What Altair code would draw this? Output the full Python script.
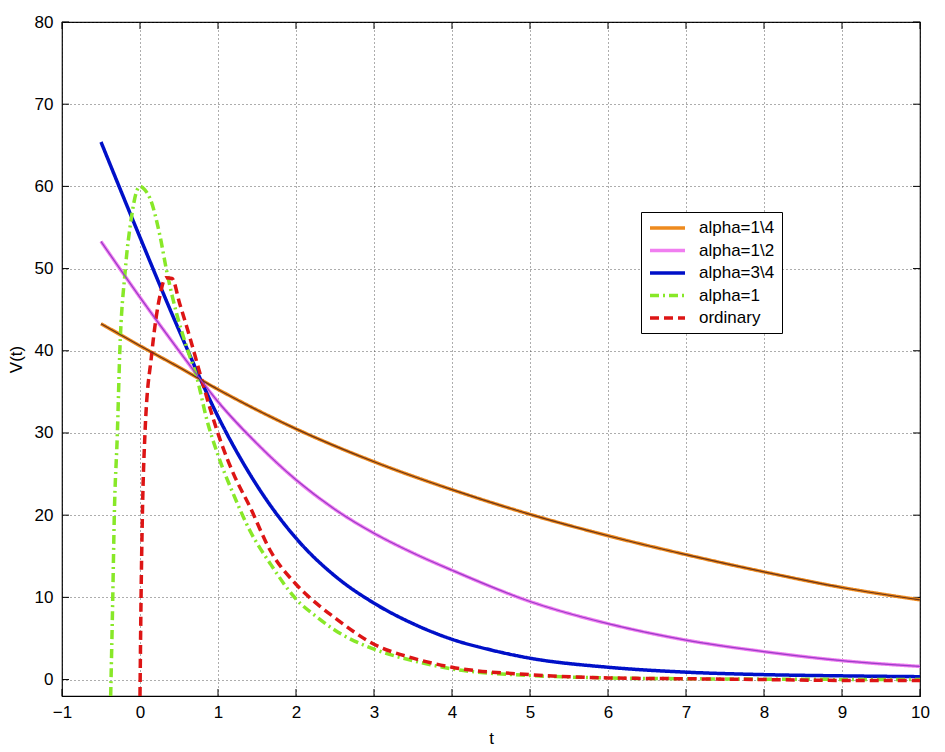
import altair as alt
import pandas as pd

series_names = ["alpha=1\\4", "alpha=1\\2", "alpha=3\\4", "alpha=1", "ordinary"]
series_colors = ["#EE8A1E", "#F07EF0", "#0010C8", "#88E828", "#DD1515"]
series_dash = [[1, 0], [1, 0], [1, 0], [9, 4, 2, 4], [9, 5]]
series_width = [3.5, 3.5, 4, 3.5, 4]

t_a14 = [-0.5, 0, 0.5, 1, 1.5, 2, 3, 4, 5, 6, 7, 8, 9, 10]
v_a14 = [43.3, 40.6, 38.0, 35.3, 32.8, 30.5, 26.5, 23.1, 20.1, 17.5, 15.2, 13.1, 11.2, 9.7]

t_a12 = [-0.5, 0, 0.5, 1, 1.5, 2, 2.5, 3, 3.5, 4, 5, 6, 7, 8, 9, 10]
v_a12 = [53.3, 46.5, 40.0, 33.8, 28.7, 24.3, 20.7, 17.8, 15.4, 13.3, 9.5, 6.8, 4.8, 3.4, 2.3, 1.6]

t_a34 = [-0.5, 0, 0.5, 1, 1.5, 2, 2.5, 3, 3.5, 4, 4.5, 5, 6, 7, 8, 9, 10]
v_a34 = [65.4, 53.8, 42.5, 32.0, 23.6, 17.2, 12.6, 9.3, 6.8, 4.9, 3.6, 2.6, 1.5, 0.9, 0.6, 0.45, 0.35]

t_a1 = [-0.376, -0.35, -0.33, -0.29, -0.26, -0.19, -0.11, -0.05, 0, 0.06, 0.13, 0.26,
        0.34, 0.47, 0.6, 0.73, 0.86, 1.0, 1.2, 1.41, 1.67, 2, 2.27, 2.5, 3, 3.5, 4,
        5, 6, 7, 8, 10]
v_a1 = [-2, 9.6, 19.7, 30, 39.6, 49.7, 56.2, 59.2, 60, 59.6, 58.5, 53.8,
        49.8, 44.5, 40.4, 36.7, 31.5, 27.3, 22.5, 18.1, 14.1, 9.8, 7.6, 6.0, 3.7, 2.3, 1.3,
        0.5, 0.2, 0.1, 0.05, 0]

t_ord = [0, 0.013, 0.03, 0.064, 0.15, 0.26, 0.33, 0.41, 0.51, 0.64, 0.77, 0.92,
         1.03, 1.2, 1.41, 1.67, 2, 2.27, 2.5, 3, 3.5, 4, 5, 6, 7, 8, 9, 10]
v_ord = [-2, 9.6, 19.7, 30, 39.6, 46.9, 48.9, 48.8, 45.7, 41.6, 37.2, 32.3,
         29.1, 25, 21, 15.7, 11.6, 9.2, 7.5, 4.3, 2.6, 1.5, 0.6, 0.2, 0.1, 0, -0.1, -0.1]

x_ticks = [-1, 0, 1, 2, 3, 4, 5, 6, 7, 8, 9, 10]
y_ticks = [0, 10, 20, 30, 40, 50, 60, 70, 80]

core_names = ["alpha=1\\4", "alpha=1\\2"]
core_colors = ["#6A3418", "#9A3CC8"]

W, H = 858, 674
FONT = "Liberation Sans"

rows = []
for name, ts, vs in zip(series_names,
                        [t_a14, t_a12, t_a34, t_a1, t_ord],
                        [v_a14, v_a12, v_a34, v_a1, v_ord]):
    for t, v in zip(ts, vs):
        rows.append({"series": name, "t": t, "V": v})
df = pd.DataFrame(rows)

xscale = alt.Scale(domain=[-1, 10], nice=False, zero=False)
yscale = alt.Scale(domain=[-2, 80], nice=False, zero=False)

xaxis = alt.Axis(values=x_ticks, title="t", grid=True, gridDash=[1, 3], gridColor="#333",
                 gridOpacity=0.8, ticks=False, domain=False, labelFont=FONT, labelFontSize=17,
                 labelColor="black", labelPadding=8, titleFont=FONT, titleFontSize=17,
                 titleFontWeight="normal", titleColor="black", titlePadding=10,
                 labelFlush=False)
yaxis = alt.Axis(values=y_ticks, title="V(t)", grid=True, gridDash=[1, 3], gridColor="#333",
                 gridOpacity=0.8, ticks=False, domain=False, labelFont=FONT, labelFontSize=17,
                 labelColor="black", labelPadding=9, titleFont=FONT, titleFontSize=17,
                 titleFontWeight="normal", titleColor="black", titlePadding=9,
                 labelFlush=False)

legend_kw = dict(title=None, orient="none", legendX=579, legendY=190,
                 symbolType="M-1,0L4,0", symbolSize=196,
                 symbolStrokeWidth=3.5, labelFont=FONT,
                 labelFontSize=17, labelColor="black",
                 labelOffset=33, rowPadding=5.5, padding=7,
                 strokeColor="black", fillColor="white",
                 labelLimit=200)

lines = alt.Chart(df).mark_line(interpolate="monotone", clip=True).encode(
    x=alt.X("t:Q", scale=xscale, axis=xaxis),
    y=alt.Y("V:Q", scale=yscale, axis=yaxis),
    color=alt.Color("series:N", sort=series_names,
                    scale=alt.Scale(domain=series_names, range=series_colors),
                    legend=alt.Legend(**legend_kw)),
    strokeDash=alt.StrokeDash("series:N", sort=series_names,
                              scale=alt.Scale(domain=series_names, range=series_dash),
                              legend=alt.Legend(**legend_kw)),
    strokeWidth=alt.StrokeWidth("series:N", scale=alt.Scale(domain=series_names, range=series_width),
                                legend=None),
    order=alt.Order("t:Q"),
)

cores = alt.Chart(df).transform_filter(
    alt.FieldOneOfPredicate(field="series", oneOf=core_names)
).mark_line(interpolate="monotone", strokeWidth=1.2, clip=True).encode(
    x=alt.X("t:Q", scale=xscale, axis=xaxis),
    y=alt.Y("V:Q", scale=yscale, axis=yaxis),
    detail="series:N",
    stroke=alt.Stroke("series:N", scale=alt.Scale(domain=core_names, range=core_colors), legend=None),
    order=alt.Order("t:Q"),
)

dfx = pd.DataFrame({"t": x_ticks})
dfy = pd.DataFrame({"V": y_ticks})
tick_style = dict(color="black", strokeWidth=1)
xt_bottom = alt.Chart(dfx).mark_rule(**tick_style).encode(
    x=alt.X("t:Q", scale=xscale, axis=xaxis), y=alt.value(H), y2=alt.value(H - 7))
xt_top = alt.Chart(dfx).mark_rule(**tick_style).encode(
    x=alt.X("t:Q", scale=xscale, axis=xaxis), y=alt.value(0), y2=alt.value(7))
yt_left = alt.Chart(dfy).mark_rule(**tick_style).encode(
    y=alt.Y("V:Q", scale=yscale, axis=yaxis), x=alt.value(0), x2=alt.value(7))
yt_right = alt.Chart(dfy).mark_rule(**tick_style).encode(
    y=alt.Y("V:Q", scale=yscale, axis=yaxis), x=alt.value(W), x2=alt.value(W - 7))

chart = alt.layer(xt_bottom, xt_top, yt_left, yt_right, lines, cores).properties(
    width=W, height=H, autosize="none",
    padding={"left": 54, "top": 14, "right": 15, "bottom": 56},
    background="white",
).configure_view(stroke="black", strokeWidth=1.2)

chart.save("out.html", embed_options={"renderer": "svg", "actions": False})
